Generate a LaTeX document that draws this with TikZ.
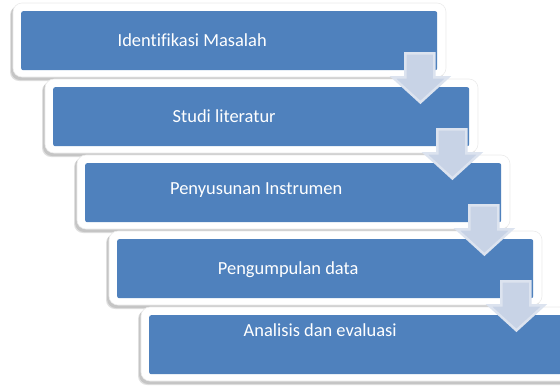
\documentclass[tikz,border=0pt]{standalone}
\usepackage{fontspec}
\setmainfont{Carlito}[Ligatures=CommonOff]
\usetikzlibrary{calc}
\definecolor{boxblue}{HTML}{4F81BD}
\definecolor{arrowfill}{HTML}{C8D3E6}
\definecolor{arrowedge}{HTML}{DCE3EF}
\begin{document}
\begin{tikzpicture}[x=1bp,y=-1bp,
  blockbox/.style={fill=boxblue, rounded corners=2bp, minimum width=416bp, minimum height=59bp, inner sep=0pt, anchor=north west},
  frameshape/.style={fill=white, draw=black!8, line width=0.6bp, rounded corners=9bp},
  shadowshape/.style={fill=black, opacity=0.12, rounded corners=9bp},
  steptext/.style={text=white, font=\fontsize{18.5}{22}\selectfont, inner sep=0pt},
  flowarrow/.style={fill=arrowfill, draw=arrowedge, line width=2.5bp, line join=miter}
]
\clip (0,0) rectangle (560,385);
\useasboundingbox (0,0) rectangle (560,385);
\foreach \i/\name/\txt/\ty in {0/b1/Identifikasi Masalah/29, 1/b2/Studi literatur/29, 2/b3/Penyusunan Instrumen/27, 3/b4/Pengumpulan data/31, 4/b5/Analisis dan evaluasi/15}{
  \coordinate (c\name) at ({21+32*\i},{11+76*\i});
  \fill[shadowshape] ($(c\name)+(-11,-5)$) rectangle ($(c\name)+(422,70)$);
  \fill[shadowshape] ($(c\name)+(-10,-6)$) rectangle ($(c\name)+(423,69)$);
  \filldraw[frameshape] ($(c\name)+(-8,-8)$) rectangle ($(c\name)+(425,66)$);
  \node[blockbox] (\name) at (c\name) {};
  \node[steptext] (t\name) at ($(\name.north)+(-37,\ty)$) {\txt};
}
\foreach \a in {b1,b2,b3,b4}{
  \begin{scope}[shift={(\a.south east)}]
    \filldraw[flowarrow] (-32,-17) -- (-3,-17) -- (-3,7) -- (10.5,7) -- (-17,32) -- (-44.5,7) -- (-32,7) -- cycle;
  \end{scope}
}
\end{tikzpicture}
\end{document}
